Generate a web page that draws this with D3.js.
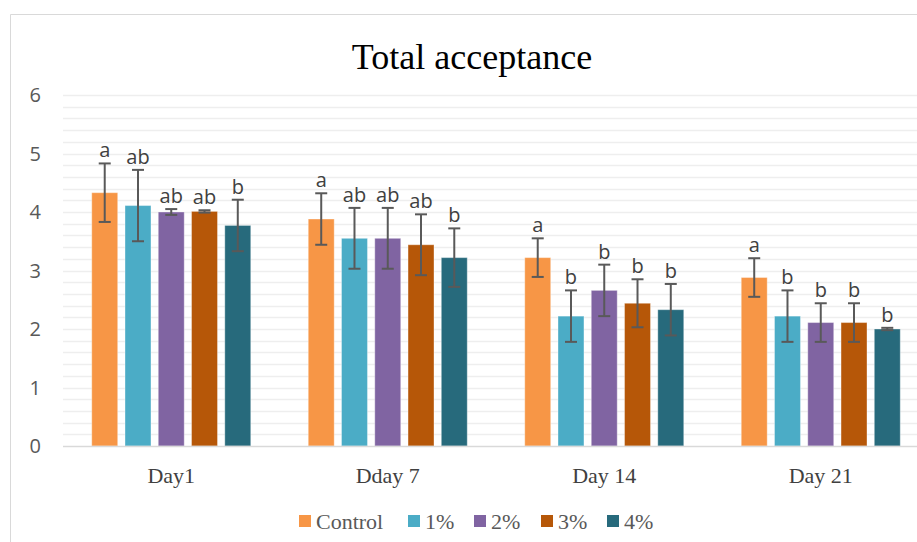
<!DOCTYPE html>
<html>
<head>
<meta charset="utf-8">
<script src="https://cdn.jsdelivr.net/npm/d3@7"></script>
<style>
  body { margin: 0; background: #fff; }
  svg { display: block; }
</style>
</head>
<body>
<svg id="chart" width="917" height="542"></svg>
<script>
// data
var days    = ['Day1', 'Dday 7', 'Day 14', 'Day 21'];
var series  = ['Control', '1%', '2%', '3%', '4%'];
var colors  = ['#F79646', '#4BACC6', '#8064A2', '#B65708', '#276A7C'];
var yTicks  = [0, 1, 2, 3, 4, 5, 6];

// one row per series, one value per day
var means = [
  [4.33, 3.88, 3.22, 2.88],
  [4.11, 3.55, 2.22, 2.22],
  [4.00, 3.55, 2.66, 2.11],
  [4.01, 3.44, 2.44, 2.11],
  [3.77, 3.22, 2.33, 2.00]
];
var errors = [
  [0.50, 0.44, 0.33, 0.33],
  [0.61, 0.52, 0.44, 0.44],
  [0.05, 0.52, 0.44, 0.33],
  [0.02, 0.52, 0.41, 0.33],
  [0.44, 0.50, 0.44, 0.02]
];
var letters = [
  ['a',  'a',  'a', 'a'],
  ['ab', 'ab', 'b', 'b'],
  ['ab', 'ab', 'b', 'b'],
  ['ab', 'ab', 'b', 'b'],
  ['b',  'b',  'b', 'b']
];

var svg = d3.select('#chart');
var plotLeft = 63, plotRight = 929, plotTop = 95, plotBottom = 446;

// frame
svg.append('path')
  .attr('d', 'M10.5,542 V14.5 H917')
  .attr('fill', 'none')
  .attr('stroke', '#d9d9d9')
  .attr('stroke-width', 1);

var y = d3.scaleLinear().domain([0, 6]).range([plotBottom, plotTop]);
var x0 = d3.scaleBand().domain(days).range([plotLeft, plotRight])
  .paddingInner(0.2656).paddingOuter(0.1328);
var x1 = d3.scaleBand().domain(series).range([0, x0.bandwidth()])
  .paddingInner(0.22).paddingOuter(0);

// gridlines every 0.2
var grid = d3.range(1, 31).map(function(i){ return i * 0.2; });
svg.append('g').selectAll('line')
  .data(grid)
  .enter().append('line')
    .attr('x1', plotLeft).attr('x2', 917)
    .attr('y1', function(d){ return Math.round(y(d)) + 0.5; })
    .attr('y2', function(d){ return Math.round(y(d)) + 0.5; })
    .attr('stroke', '#eeeeee')
    .attr('stroke-width', 1.5);

// y tick labels
svg.append('g').selectAll('text')
  .data(yTicks)
  .enter().append('text')
    .attr('x', 41)
    .attr('y', function(d){ return y(d); })
    .attr('dy', '0.36em')
    .attr('text-anchor', 'end')
    .attr('font-family', 'Open Sans, sans-serif')
    .attr('font-size', 20)
    .attr('fill', '#595959')
    .text(function(d){ return d; });

// bars, error bars, letters
var rows = [];
series.forEach(function(s, si){
  days.forEach(function(d, di){
    rows.push({ s: s, si: si, day: d, v: means[si][di], e: errors[si][di], l: letters[si][di] });
  });
});

svg.append('g').selectAll('rect')
  .data(rows)
  .enter().append('rect')
    .attr('x', function(d){ return x0(d.day) + x1(d.s); })
    .attr('y', function(d){ return y(d.v); })
    .attr('width', x1.bandwidth())
    .attr('height', function(d){ return y(0) - y(d.v); })
    .attr('fill', function(d){ return colors[d.si]; })
    .attr('stroke', '#ffffff')
    .attr('stroke-opacity', 0.35)
    .attr('stroke-width', 1);

var eb = svg.append('g')
  .attr('stroke', '#595959')
  .attr('stroke-width', 2);
rows.forEach(function(d){
  var cx = x0(d.day) + x1(d.s) + x1.bandwidth() / 2;
  var yt = y(d.v + d.e), yb = y(d.v - d.e);
  eb.append('line').attr('x1', cx).attr('x2', cx).attr('y1', yt).attr('y2', yb);
  eb.append('line').attr('x1', cx - 6).attr('x2', cx + 6).attr('y1', yt).attr('y2', yt);
  eb.append('line').attr('x1', cx - 6).attr('x2', cx + 6).attr('y1', yb).attr('y2', yb);
});

svg.append('g').selectAll('text')
  .data(rows)
  .enter().append('text')
    .attr('x', function(d){ return x0(d.day) + x1(d.s) + x1.bandwidth() / 2; })
    .attr('y', function(d){ return y(d.v + d.e) - 6; })
    .attr('text-anchor', 'middle')
    .attr('font-family', 'Open Sans, sans-serif')
    .attr('font-size', 20)
    .attr('fill', '#404040')
    .text(function(d){ return d.l; });

// x axis line
svg.append('line')
  .attr('x1', plotLeft).attr('x2', 917)
  .attr('y1', plotBottom + 0.5).attr('y2', plotBottom + 0.5)
  .attr('stroke', '#d9d9d9')
  .attr('stroke-width', 1.5);

// category labels
svg.append('g').selectAll('text')
  .data(days)
  .enter().append('text')
    .attr('x', function(d){ return x0(d) + x0.bandwidth() / 2; })
    .attr('y', 483)
    .attr('text-anchor', 'middle')
    .attr('font-family', 'Liberation Serif, serif')
    .attr('font-size', 22)
    .attr('fill', '#404040')
    .text(function(d){ return d; });

// title
svg.append('text')
  .attr('x', 472)
  .attr('y', 69)
  .attr('text-anchor', 'middle')
  .attr('font-family', 'Liberation Serif, serif')
  .attr('font-size', 36)
  .attr('fill', '#000')
  .text('Total acceptance');

// legend
var legX = [299, 408, 474, 541, 607];
var leg = svg.append('g').selectAll('g')
  .data(series)
  .enter().append('g')
    .attr('transform', function(d, i){ return 'translate(' + legX[i] + ',515)'; });
leg.append('rect')
  .attr('width', 12).attr('height', 12)
  .attr('fill', function(d, i){ return colors[i]; });
leg.append('text')
  .attr('x', 17).attr('y', 6)
  .attr('dy', '0.36em')
  .attr('font-family', 'Liberation Serif, serif')
  .attr('font-size', 22)
  .attr('fill', '#595959')
  .text(function(d){ return d; });
</script>
</body>
</html>
